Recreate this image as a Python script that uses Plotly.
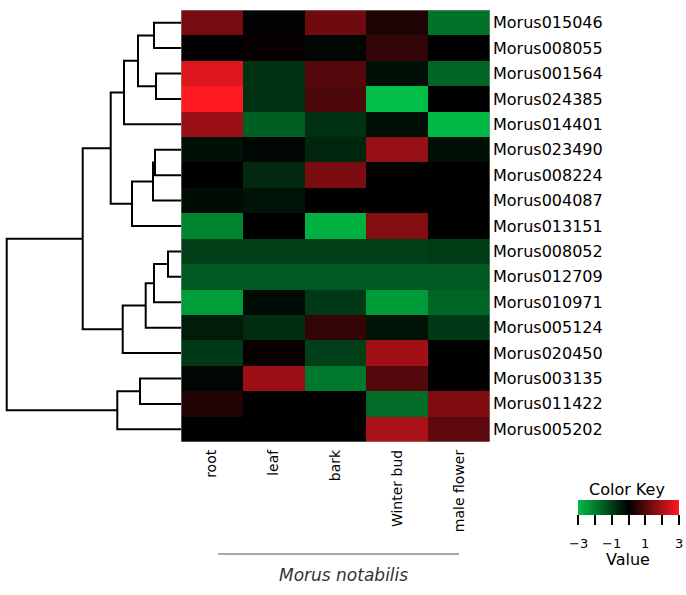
import plotly.graph_objects as go

W, H = 686, 595

genes = ["Morus015046", "Morus008055", "Morus001564", "Morus024385", "Morus014401",
         "Morus023490", "Morus008224", "Morus004087", "Morus013151", "Morus008052",
         "Morus012709", "Morus010971", "Morus005124", "Morus020450", "Morus003135",
         "Morus011422", "Morus005202"]
tissues = ["root", "leaf", "bark", "Winter bud", "male flower"]

root_vals = [1.4, 0.02, 2.6, 3.0, 1.8, -0.25, 0.0, -0.2, -2.1, -1.0, -1.4, -2.5, -0.45, -0.9, -0.1, 0.4, 0.0]
leaf_vals = [-0.05, 0.1, -0.8, -0.75, -1.5, -0.1, -0.65, -0.3, 0.0, -1.0, -1.4, -0.2, -0.7, 0.1, 1.85, 0.0, 0.0]
bark_vals = [1.3, -0.1, 1.0, 0.9, -0.75, -0.6, 1.45, 0.0, -2.8, -1.0, -1.4, -0.9, 0.6, -1.0, -1.9, 0.0, 0.0]
bud_vals = [0.35, 0.6, -0.25, -3.0, -0.25, 1.75, 0.0, 0.0, 1.55, -1.0, -1.4, -2.45, -0.3, 1.9, 1.0, -1.7, 2.0]
flower_vals = [-1.8, 0.0, -1.6, 0.0, -2.9, -0.25, 0.0, 0.0, 0.0, -0.95, -1.4, -1.6, -0.9, 0.0, 0.0, 1.5, 1.1]

# dendrogram merges: (left node, right node, height); leaves 0..16, new nodes 17..
merges = [
    (0, 1, 27), (2, 3, 25), (17, 18, 43), (19, 4, 57),
    (5, 6, 26), (21, 7, 28), (22, 8, 49), (20, 23, 70.3),
    (9, 10, 13), (25, 11, 27), (26, 12, 35.3), (27, 13, 58.3),
    (24, 28, 98.3), (14, 15, 41), (30, 16, 63.7), (29, 31, 174.3),
]

key_ticks = [-3, -2, -1, 0, 1, 2, 3]
key_label_vals = [-3, -1, 1, 3]
key_labels = ["\u22123", "\u22121", "1", "3"]

FONT = "DejaVu Sans"

cols = [root_vals, leaf_vals, bark_vals, bud_vals, flower_vals]
z = [[cols[j][i] for j in range(len(tissues))] for i in range(len(genes))]

colorscale = [[0.0, "rgb(0,190,70)"], [0.5, "rgb(0,0,0)"], [1.0, "rgb(255,25,35)"]]

# color key geometry (pixels)
KEY_X0, KEY_LEN = 578, 101
KEY_TOP = 500

fig = go.Figure()

fig.add_trace(go.Heatmap(
    z=z, x=list(range(len(tissues))), y=list(range(len(genes))),
    colorscale=colorscale, zmin=-3, zmax=3, xaxis="x", yaxis="y",
    hoverinfo="skip",
    colorbar=dict(orientation="h", x=(KEY_X0 + KEY_LEN / 2) / W, xanchor="center",
                  y=1 - KEY_TOP / H, yanchor="top",
                  lenmode="pixels", len=KEY_LEN, thickness=15, xpad=0, ypad=0,
                  outlinewidth=0, ticks="outside", ticklen=10, tickwidth=1.5, tickcolor="black",
                  tickvals=key_ticks, showticklabels=False),
))

# dendrogram coordinates from merges
ypos = {i: float(i) for i in range(len(genes))}
hgt = {i: 0.0 for i in range(len(genes))}
xs, ys = [], []
for k, (a, b, h) in enumerate(merges):
    nid = len(genes) + k
    xs += [hgt[a], h, h, hgt[b], None]
    ys += [ypos[a], ypos[a], ypos[b], ypos[b], None]
    ypos[nid] = (ypos[a] + ypos[b]) / 2
    hgt[nid] = h

fig.add_trace(go.Scatter(x=xs, y=ys, mode="lines", line=dict(color="black", width=2),
                         xaxis="x2", yaxis="y2", hoverinfo="skip", showlegend=False))


def ann(text, px, py, size, color="black"):
    return dict(text=text, xref="paper", yref="paper", x=px / W, y=1 - py / H,
                xanchor="center", yanchor="middle", showarrow=False,
                font=dict(family=FONT, size=size, color=color))


annotations = [
    ann("<i>Morus notabilis</i>", 343, 575, 17, "#333333"),
    ann("Color Key", 627, 489, 16),
    ann("Value", 628, 559, 16),
]
for v, t in zip(key_label_vals, key_labels):
    px = KEY_X0 + (v + 3) / 6 * KEY_LEN
    annotations.append(ann(t, px, 543, 13))

ydom = [1 - 442 / H, 1 - 10 / H]
fig.update_layout(
    width=W, height=H, margin=dict(l=0, r=0, t=0, b=0),
    paper_bgcolor="white", plot_bgcolor="white", showlegend=False,
    font=dict(family=FONT, color="black"),
    xaxis=dict(domain=[181 / W, 490 / W], range=[-0.5, 4.5], tickvals=list(range(5)),
               ticktext=tissues, tickangle=-90, showgrid=False, zeroline=False,
               ticks="", ticklabelstandoff=4,
               tickfont=dict(family=FONT, size=14, color="black")),
    yaxis=dict(domain=ydom, range=[16.5, -0.5], tickvals=list(range(len(genes))),
               ticktext=genes, side="right", showgrid=False, zeroline=False,
               ticks="", ticklabelstandoff=2,
               tickfont=dict(family=FONT, size=16, color="black")),
    xaxis2=dict(domain=[0, 181 / W], range=[181, 0], visible=False, anchor="y2"),
    yaxis2=dict(domain=ydom, range=[16.5, -0.5], visible=False, anchor="x2"),
    shapes=[
        dict(type="line", xref="paper", yref="paper", x0=218 / W, x1=459 / W,
             y0=1 - 554 / H, y1=1 - 554 / H, line=dict(color="#8a8a8a", width=1.5)),
        dict(type="rect", xref="x", yref="y", x0=-0.5, x1=4.5, y0=-0.5, y1=16.5,
             line=dict(color="#9a9a9a", width=1), layer="above"),
    ],
    annotations=annotations,
)

fig.write_html("out.html", config={"displayModeBar": False},
               post_script="document.body.style.margin='0';document.body.style.overflow='hidden';")
